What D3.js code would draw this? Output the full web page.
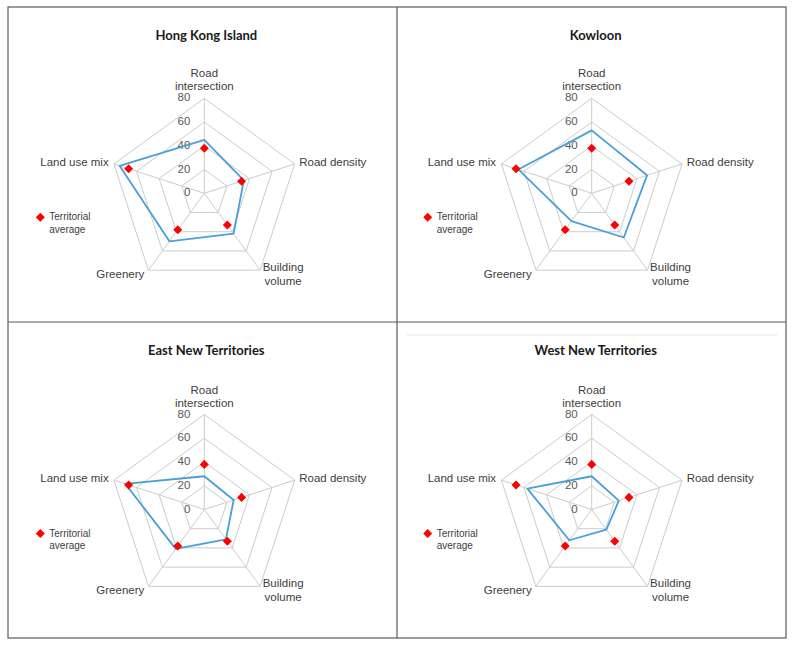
<!DOCTYPE html>
<html>
<head>
<meta charset="utf-8">
<script src="https://cdn.jsdelivr.net/npm/d3@7"></script>
<style>
  html, body { margin: 0; padding: 0; background: #ffffff; }
  svg { display: block; }
</style>
</head>
<body>
<svg id="chart" width="792" height="647"></svg>
<script>
// ---- data ----
const categories = ["Road intersection", "Road density", "Building volume", "Greenery", "Land use mix"];
const ticks = [0, 20, 40, 60, 80];
const panelTitles = ["Hong Kong Island", "Kowloon", "East New Territories", "West New Territories"];
const territorialAverage = [38, 33, 33, 38, 67];
const hongKongIsland = [45, 35, 42, 50, 75];
const kowloon = [53, 49, 46, 29, 65];
const eastNewTerritories = [28, 26, 31, 41, 70];
const westNewTerritories = [28, 24, 21, 32, 57];
const legendLabel = ["Territorial", "average"];

const seriesByPanel = [hongKongIsland, kowloon, eastNewTerritories, westNewTerritories];

// ---- layout ----
const svg = d3.select("#chart");
const frame = { left: 8, right: 786, top: 7, bottom: 638, midX: 397, midY: 322 };
const panels = [
  { cx: 204.3, cy: 193.3, titleY: 37 },
  { cx: 591.7, cy: 193.3, titleY: 37 },
  { cx: 204.3, cy: 509.5, titleY: 352 },
  { cx: 591.7, cy: 509.5, titleY: 352 }
];
const R = 95;
const rScale = d3.scaleLinear().domain([0, 80]).range([0, R]);
const angle = d3.scaleLinear().domain([0, categories.length]).range([0, 2 * Math.PI]);

const gridColor = "#cccccc";
const lineColor = "#4a9fd6";
const labelColor = "#404040";
const tickColor = "#595959";
const font = "'Liberation Sans', Arial, sans-serif";

// frame
const fg = svg.append("g").attr("fill", "none").attr("stroke", "#5a5a5a").attr("stroke-width", 1.2);
fg.append("rect").attr("x", frame.left).attr("y", frame.top)
  .attr("width", frame.right - frame.left).attr("height", frame.bottom - frame.top);
fg.append("line").attr("x1", frame.midX).attr("x2", frame.midX).attr("y1", frame.top).attr("y2", frame.bottom);
fg.append("line").attr("x1", frame.left).attr("x2", frame.right).attr("y1", frame.midY).attr("y2", frame.midY);
// faint chart border artifact in the West NT panel
svg.append("line").attr("x1", 407).attr("x2", 777).attr("y1", 335).attr("y2", 335)
  .attr("stroke", "#e4e4e4").attr("stroke-width", 1);

function pt(cx, cy, i, v) {
  const a = angle(i);
  return [cx + rScale(v) * Math.sin(a), cy - rScale(v) * Math.cos(a)];
}

panels.forEach((p, k) => {
  const g = svg.append("g");
  const { cx, cy } = p;

  // title
  g.append("text").attr("x", cx + (k % 2 === 1 ? 4 : 2)).attr("y", p.titleY)
    .attr("text-anchor", "middle").attr("dominant-baseline", "middle")
    .attr("font-family", "Lato, 'Open Sans', sans-serif").attr("font-weight", "bold")
    .attr("font-size", 13).attr("fill", "#1a1a1a")
    .text(panelTitles[k]);

  // grid rings
  ticks.filter(t => t > 0).forEach(t => {
    const pts = categories.map((c, i) => pt(cx, cy, i, t));
    g.append("path").attr("d", d3.line()(pts) + "Z")
      .attr("fill", "none").attr("stroke", gridColor).attr("stroke-width", 1);
  });
  // spokes
  categories.forEach((c, i) => {
    const [x, y] = pt(cx, cy, i, 80);
    g.append("line").attr("x1", cx).attr("y1", cy).attr("x2", x).attr("y2", y)
      .attr("stroke", gridColor).attr("stroke-width", 1);
  });

  // tick labels
  ticks.forEach(t => {
    g.append("text").attr("x", cx - 14).attr("y", cy - rScale(t))
      .attr("text-anchor", "end").attr("dominant-baseline", "middle")
      .attr("font-family", font).attr("font-size", 11.5).attr("fill", tickColor)
      .text(t);
  });

  // category labels
  categories.forEach((c, i) => {
    const [vx, vy] = pt(cx, cy, i, 80);
    const t = g.append("text").attr("font-family", font).attr("font-size", 11.5).attr("fill", labelColor);
    if (i === 0) {
      const words = ["Road", "intersection"];
      t.attr("text-anchor", "middle");
      words.forEach((w, j) => t.append("tspan").attr("x", vx).attr("y", vy - 8 - (words.length - 1 - j) * 13).text(w));
    } else if (i === 1) {
      t.attr("text-anchor", "start").attr("x", vx + 4.6).attr("y", vy - 1).attr("dominant-baseline", "middle").text(c);
    } else if (i === 2) {
      t.attr("text-anchor", "middle").attr("dominant-baseline", "middle");
      ["Building", "volume"].forEach((w, j) => t.append("tspan").attr("x", vx + 23).attr("y", vy - 2.5 + j * 14).text(w));
    } else if (i === 3) {
      t.attr("text-anchor", "end").attr("x", vx - 4.2).attr("y", vy + 5).attr("dominant-baseline", "middle").text(c);
    } else {
      t.attr("text-anchor", "end").attr("x", vx - 5.3).attr("y", vy - 0.7).attr("dominant-baseline", "middle").text(c);
    }
  });

  // district series line
  const vals = seriesByPanel[k];
  const linePts = vals.map((v, i) => pt(cx, cy, i, v));
  g.append("path").attr("d", d3.line()(linePts) + "Z")
    .attr("fill", "none").attr("stroke", lineColor).attr("stroke-width", 1.8)
    .attr("stroke-linejoin", "round");

  // territorial average markers
  const diamond = d3.symbol().type(d3.symbolDiamond2).size(52);
  territorialAverage.forEach((v, i) => {
    const [x, y] = pt(cx, cy, i, v);
    g.append("path").attr("d", diamond()).attr("transform", `translate(${x},${y})`)
      .attr("fill", "#ff0000");
  });

  // legend
  const lx = cx - 164, ly = cy + 24;
  g.append("path").attr("d", diamond()).attr("transform", `translate(${lx},${ly})`).attr("fill", "#ff0000");
  const lt = g.append("text").attr("font-family", font).attr("font-size", 10).attr("fill", labelColor)
    .attr("dominant-baseline", "middle");
  legendLabel.forEach((w, j) => lt.append("tspan").attr("x", lx + 9).attr("y", ly + j * 12.5).text(w));
});
</script>
</body>
</html>
